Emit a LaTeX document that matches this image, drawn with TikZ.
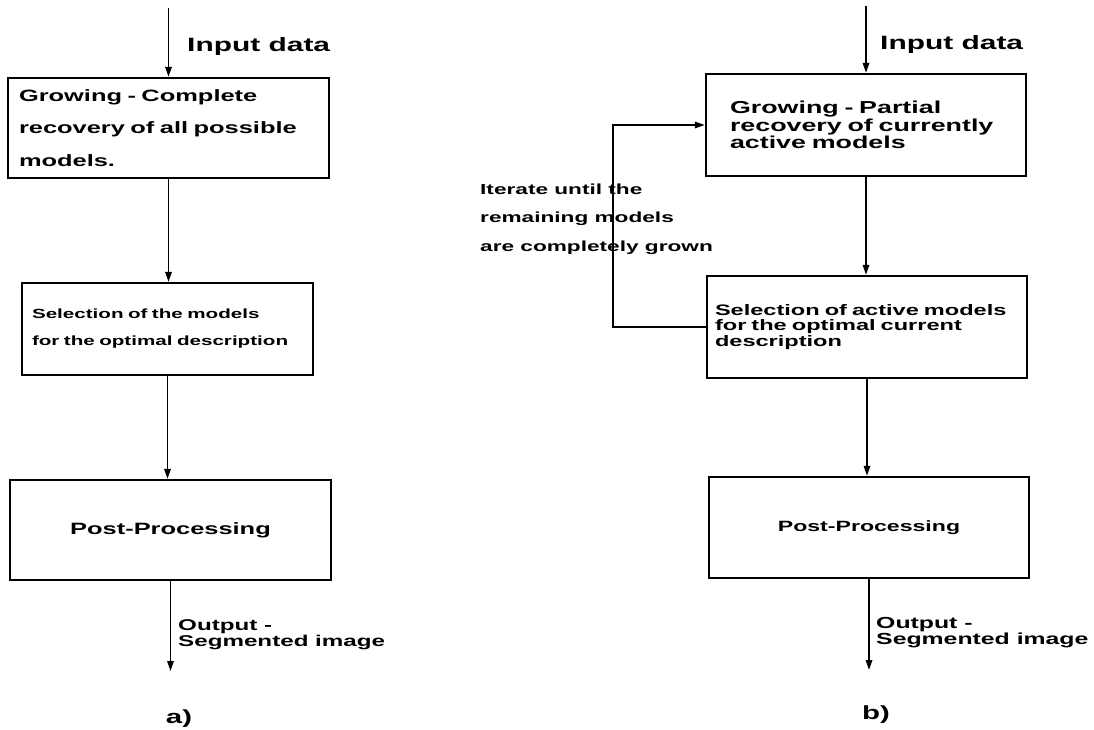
\documentclass[tikz,border=0pt]{standalone}
\usepackage{fontspec}
\usepackage{tikz}
\usetikzlibrary{arrows.meta, positioning}
\newfontfamily\figfont[FakeStretch=1.55]{Liberation Sans}

\tikzset{
  txt/.style 2 args = {font = \figfont\bfseries\fontsize{#1}{#2}\selectfont},
  stagebox/.style = {draw, line width = 2.4pt, inner ysep = 0pt, align = left},
  caption/.style = {inner sep = 0pt, align = left},
  flow/.style = {line width = 1.7pt, -{Triangle[length = 10pt, width = 6.5pt]}},
}

\begin{document}
\begin{tikzpicture}[x = 1pt, y = -1pt]
  \useasboundingbox (0, 0) rectangle (1094, 730);

  % ------------------------
  % a) complete recovery
  % ------------------------

  \node[stagebox, txt = {16.4}{32.5}, minimum height = 100pt, text width = 299pt, inner xsep = 11pt] (growA) at (168.5, 128)
    {Growing - Complete\\recovery of all possible\\models.};
  \node[stagebox, txt = {13.3}{27}, minimum height = 92pt, text width = 271pt, inner xsep = 10pt] (selA) at (167.5, 329)
    {Selection of the models\\for the optimal description};
  \node[stagebox, txt = {16.4}{16.4}, align = center, minimum width = 321pt, minimum height = 100pt] (postA) at (170.5, 530)
    {Post-Processing};

  \coordinate (topA) at (168.5, 8);
  \coordinate (outA) at (170.5, 671);

  \node[caption, txt = {19.3}{19.3}, anchor = west] (inA) at (187, 47) {Input data};
  \node[caption, txt = {15.6}{16.5}, anchor = west] (resA) at (178, 634.5) {Output -\\Segmented image};
  \node[caption, txt = {19}{19}] (tagA) at (179, 719) {a)};

  \draw[flow] (topA) -- (growA.north);
  \draw[flow] (growA.south) -- (growA.south |- selA.north);
  \draw[flow] (selA.south) -- (selA.south |- postA.north);
  \draw[flow] (postA.south) -- (outA);

  % ------------------------
  % b) partial recovery, iterated
  % ------------------------

  \node[stagebox, txt = {17.3}{17.3}, minimum height = 102pt, text width = 272pt, inner xsep = 24pt] (growB) at (866, 125)
    {Growing - Partial\\recovery of currently\\active models};
  \node[stagebox, txt = {15.2}{15.5}, minimum height = 102pt, text width = 304pt, inner xsep = 8pt] (selB) at (867, 327)
    {Selection of active models\\for the optimal current\\description};
  \node[stagebox, txt = {14.9}{14.9}, align = center, minimum width = 320pt, minimum height = 101pt] (postB) at (869, 527.5)
    {Post-Processing};

  \coordinate (topB) at (866, 6);
  \coordinate (outB) at (869, 670);
  \coordinate (loopB) at (613, 125);

  \node[caption, txt = {19.3}{19.3}, anchor = west] (inB) at (880, 45) {Input data};
  \node[caption, txt = {14.6}{28.5}, anchor = west] (iterB) at (480, 219)
    {Iterate until the\\remaining models\\are completely grown};
  \node[caption, txt = {16}{16}, anchor = west] (resB) at (876, 633) {Output -\\Segmented image};
  \node[caption, txt = {19}{19}] (tagB) at (876, 715) {b)};

  \draw[flow] (topB) -- (growB.north);
  \draw[flow] (growB.south) -- (growB.south |- selB.north);
  \draw[flow] (selB.south) -- (selB.south |- postB.north);
  \draw[flow] (postB.south) -- (outB);
  \draw[flow] (selB.west) -| (loopB) |- (growB.west);
\end{tikzpicture}
\end{document}
